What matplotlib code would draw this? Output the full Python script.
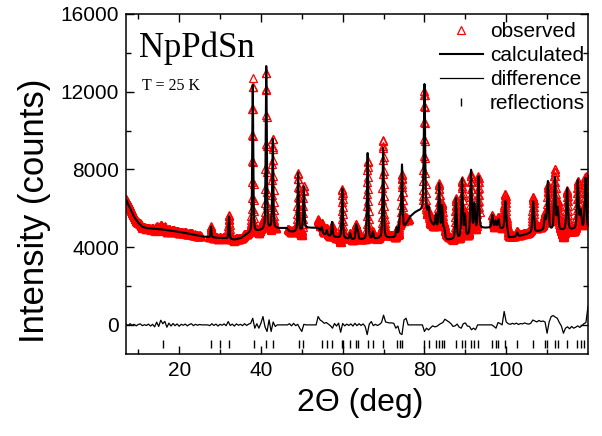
import numpy as np
import matplotlib
matplotlib.use("Agg")
import matplotlib.pyplot as plt

plt.rcParams['font.family'] = ['Liberation Sans', 'DejaVu Sans']

# background knots of the refined profile (2theta, counts)
bg_pos = [7, 8, 9, 10, 11, 12, 15, 18, 21, 24, 26, 28, 31, 33.5, 35, 36.5,
          38, 40, 43, 46.3, 47, 48, 50, 51, 54, 55, 57, 60, 63, 66, 70, 73,
          74.5, 75.5, 76.5, 77.5, 78.5, 79.5, 80.5, 81.5, 82.5, 84, 85.5, 88,
          91, 93.5, 96.5, 100.3, 100.6, 103, 106, 109, 114, 120]
bg_val = [6450, 6000, 5550, 5250, 5050, 4980, 4930, 4850, 4750, 4620, 4540,
          4500, 4460, 4380, 4450, 4650, 4750, 4850, 4950, 4980, 4800, 4780,
          4850, 4990, 4990, 4700, 4550, 4450, 4380, 4380, 4450, 4500, 4750,
          5150, 5550, 5750, 5850, 5850, 5700, 5300, 5000, 4600, 4350, 4400,
          4550, 4950, 5000, 4900, 4480, 4550, 4720, 4850, 4850, 4950]

# Bragg peaks: position (deg) and intensity above background (counts)
peak_pos = [27.8, 32.2, 38.0, 41.3, 42.9, 49.1, 50.5, 54.9, 56.1, 57.4,
            59.9, 61.8, 63.3, 63.7, 66.1, 67.4, 69.9, 73.2, 74.0, 74.5,
            80.0, 81.0, 82.8, 83.6, 84.3, 84.8, 87.7, 89.2, 89.9, 91.4,
            92.2, 93.2, 96.6, 97.4, 98.1, 99.8, 102.7, 106.6, 109.5, 110.2,
            111.9, 112.6, 114.9, 117.5, 118.2, 119.4]
peak_h = [550, 1150, 7600, 8400, 4600, 3000, 2200, 300, 250, 750,
          2550, 300, 750, 450, 4450, 350, 4650, 450, 800, 3450,
          6600, 500, 700, 2500, 1500, 450, 2100, 3000, 1100, 3300,
          1400, 2700, 650, 350, 450, 1450, 200, 1600, 700, 2500,
          2700, 1100, 2150, 2500, 900, 2600]

# reflection markers
refl_pos = [16.0, 27.8, 30.1, 32.3, 38.2, 41.3, 42.9, 49.2, 50.4, 54.9,
            56.1, 57.4, 59.8, 60.0, 61.8, 63.3, 63.7, 66.1, 67.4, 69.8,
            73.2, 74.0, 74.5, 80.0, 81.0, 82.8, 83.6, 84.3, 84.8, 87.7,
            89.1, 89.9, 91.3, 92.0, 93.2, 96.6, 97.4, 98.1, 99.7, 102.7,
            106.6, 109.5, 110.1, 111.9, 112.6, 114.8, 117.4, 118.2, 119.1]

# obs - calc, every 0.5 deg from 7 to 120
diff_x = np.arange(7.0, 120.01, 0.5)
diff_y = np.array([
    40, -30, 60, -20, 30, -50, 20, 50, -40, 10,
    -30, 40, -60, 30, -100, 140, -80, 240, 60, 180,
    -120, 90, -60, 70, -40, 50, -70, 30, -20, 40,
    -50, 20, 60, -40, 30, -20, 20, 0, 0, 0,
    0, -40, 60, -30, 40, -60, 30, -20, 50, -40,
    170, -30, 40, -60, 50, -20, 30, -40, 60, -30,
    40, 80, 340, -170, 60, -170, 80, 430, -100, -340,
    260, -340, 150, -80, 0, 0, 0, 0, 0, 0,
    60, -50, 80, -40, 30, -170, -340, 30, 0, 0,
    0, 0, 0, 0, 430, 250, 180, 80, 120, 40,
    -40, -170, 70, -60, 90, -380, 70, -50, 40, -30,
    50, -60, 80, -40, 60, -30, 50, -80, -500, 40,
    170, -40, 30, -30, 20, 120, 500, 150, 120, 100,
    100, 80, -170, -60, -430, -500, 250, 340, 0, 0,
    0, 0, 0, 0, 0, 0, -340, -170, -260, -150,
    -50, -100, -80, 0, 70, 120, 290, 220, 150, 60,
    -80, -50, 40, -120, -170, 60, 100, -60, -80, -250,
    -170, -250, 0, 0, 0, 0, 0, 0, 0, 0,
    -80, -170, 120, 70, 0, 690, 150, 60, 30, 80,
    40, 90, 20, 70, 50, 100, 60, 40, 80, 250,
    200, 150, 230, 170, 200, 150, -430, 150, 430, 480,
    400, 340, 120, -60, -430, -170, -100, -200, -80, -170,
    -120, -50, -130, -40, 60, 120, 940,
])

# regions left out of the refinement
excluded = [(25.3, 27.3), (43.8, 46.5), (50.6, 53.9), (76.2, 79.6), (93.5, 96.6)]


def profile(x):
    y = np.interp(x, bg_pos, bg_val)
    for p, h in zip(peak_pos, peak_h):
        w = 0.22 + 0.002 * p
        d = (x - p) / (w / 2)
        gauss = np.exp(-np.log(2) * d ** 2)
        lor = 1 / (1 + d ** 2)
        y = y + h * (0.6 * gauss + 0.4 * lor)
    return y


x = np.arange(7.0, 120.0, 0.005)
calc = profile(x)

x_obs = np.arange(7.0, 120.0, 0.04)
keep = np.ones_like(x_obs, dtype=bool)
for a, b in excluded:
    keep &= ~((x_obs > a) & (x_obs < b))
x_obs = x_obs[keep]
y_obs = profile(x_obs) + np.interp(x_obs, diff_x, diff_y)

fig = plt.figure(figsize=(6.02, 4.36), dpi=100)
ax = fig.add_axes([0.2093, 0.188, 0.7674, 0.78])

ax.plot(x_obs, y_obs, ls='none', marker='^', ms=6, mfc='none', mec='red',
        mew=0.9, label='observed')
ax.plot(x, calc, color='black', lw=1.5, label='calculated')
ax.plot(diff_x, diff_y, color='black', lw=0.9, label='difference')
ax.plot(refl_pos, np.full(len(refl_pos), -980), ls='none', marker='|',
        ms=6, mew=1.0, color='black', label='reflections')

ax.set_xlim(7, 120)
ax.set_ylim(-1500, 16000)
ax.set_xticks([20, 40, 60, 80, 100])
ax.set_xticks(np.arange(10, 120, 10), minor=True)
ax.set_yticks([0, 4000, 8000, 12000, 16000])
ax.set_yticks(np.arange(0, 16001, 2000), minor=True)
ax.tick_params(which='both', direction='in', top=True, right=True,
               labelsize=15, pad=5)
ax.tick_params(which='major', length=6, width=1)
ax.tick_params(which='minor', length=3.5, width=1)
for s in ax.spines.values():
    s.set_linewidth(1.1)

ax.set_xlabel('2\u0398 (deg)', fontsize=23)
ax.set_ylabel('Intensity (counts)', fontsize=25)
ax.xaxis.set_label_coords(0.508, -0.1)
ax.yaxis.set_label_coords(-0.162, 0.42)

ax.text(0.028, 0.8735, 'NpPdSn', transform=ax.transAxes, fontsize=25,
        family='Liberation Serif', va='baseline')
ax.text(0.035, 0.776, 'T = 25 K', transform=ax.transAxes, fontsize=11.5,
        family='Liberation Serif', va='baseline')

ax.legend(loc='upper left', bbox_to_anchor=(0.679, 0.975), frameon=False,
          fontsize=15, numpoints=1, handlelength=2.07, handletextpad=0.34,
          labelspacing=0.24, borderpad=0, borderaxespad=0)

fig.savefig('out.png', dpi=100)
